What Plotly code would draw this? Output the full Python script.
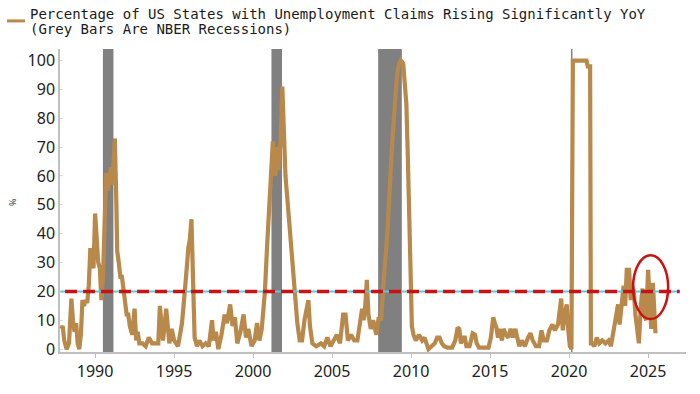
import plotly.graph_objects as go
import pandas as pd

# ---- data (decimal year, % of states) ----
year_pos = [
    1987.85, 1987.95, 1988.05, 1988.2, 1988.35, 1988.5, 1988.6, 1988.7, 1988.8, 1988.9,
    1989.0, 1989.1, 1989.2, 1989.3, 1989.4, 1989.5, 1989.6, 1989.7, 1989.8, 1989.9,
    1990.0, 1990.1, 1990.2, 1990.3, 1990.4, 1990.5, 1990.6, 1990.7, 1990.8, 1990.9,
    1991.0, 1991.1, 1991.25, 1991.35, 1991.4, 1991.5, 1991.6, 1991.7, 1991.8, 1991.9,
    1992.0, 1992.1, 1992.2, 1992.35, 1992.5, 1992.6, 1992.7, 1992.8, 1993.0, 1993.2,
    1993.4, 1993.6, 1993.8, 1994.0, 1994.1, 1994.2, 1994.3, 1994.5, 1994.6, 1994.7,
    1994.85, 1995.0, 1995.25, 1995.4, 1995.5, 1995.6, 1995.7, 1995.8, 1995.9, 1996.0,
    1996.1, 1996.2, 1996.3, 1996.45, 1996.6, 1996.8, 1997.0, 1997.2, 1997.4, 1997.5,
    1997.65, 1997.8, 1998.0, 1998.2, 1998.35, 1998.55, 1998.7, 1998.85, 1999.0, 1999.2,
    1999.4, 1999.55, 1999.7, 1999.9, 2000.1, 2000.25, 2000.4, 2000.55, 2000.75, 2000.9,
    2001.0, 2001.15, 2001.25, 2001.4, 2001.5, 2001.6, 2001.75, 2001.85, 2001.95, 2002.05,
    2002.2, 2002.3, 2002.45, 2002.55, 2002.65, 2002.8, 2002.95, 2003.1, 2003.25, 2003.4,
    2003.5, 2003.6, 2003.75, 2004.0, 2004.3, 2004.5, 2004.7, 2004.9, 2005.1, 2005.3,
    2005.5, 2005.7, 2005.85, 2006.0, 2006.2, 2006.4, 2006.6, 2006.75, 2006.9, 2007.0,
    2007.1, 2007.2, 2007.3, 2007.45, 2007.6, 2007.8, 2007.95, 2008.1, 2008.2, 2008.35,
    2008.5, 2008.6, 2008.7, 2008.8, 2008.9, 2009.0, 2009.1, 2009.2, 2009.35, 2009.5,
    2009.6, 2009.7, 2009.8, 2009.9, 2010.0, 2010.05, 2010.15, 2010.3, 2010.5, 2010.7,
    2010.85, 2011.0, 2011.1, 2011.3, 2011.5, 2011.65, 2011.8, 2011.95, 2012.1, 2012.3,
    2012.6, 2012.8, 2012.95, 2013.05, 2013.15, 2013.3, 2013.4, 2013.5, 2013.7, 2013.9,
    2014.05, 2014.15, 2014.3, 2014.6, 2014.9, 2015.05, 2015.2, 2015.3, 2015.4, 2015.5,
    2015.6, 2015.75, 2015.85, 2016.0, 2016.15, 2016.3, 2016.45, 2016.6, 2016.75, 2016.85,
    2017.0, 2017.2, 2017.4, 2017.55, 2017.7, 2017.9, 2018.1, 2018.25, 2018.4, 2018.6,
    2018.75, 2018.95, 2019.1, 2019.3, 2019.5, 2019.6, 2019.7, 2019.85, 2019.95, 2020.05,
    2020.15, 2020.24, 2020.5, 2020.8, 2021.1, 2021.18, 2021.33, 2021.38, 2021.45, 2021.6,
    2021.75, 2021.9, 2022.1, 2022.3, 2022.5, 2022.65, 2022.8, 2022.95, 2023.1, 2023.2,
    2023.35, 2023.45, 2023.55, 2023.65, 2023.8, 2023.9, 2024.0, 2024.1, 2024.2, 2024.3,
    2024.42, 2024.55, 2024.65, 2024.75, 2024.88, 2025.0, 2025.1, 2025.2, 2025.3, 2025.38,
    2025.47,
]
pct_states = [
    7, 8, 3, 0, 2, 17.5, 10, 6, 9, 2,
    0, 5, 17, 15, 17, 16, 22, 35, 30, 28,
    47, 35, 30, 28, 17, 25, 45, 61, 55, 60,
    63, 57, 73, 50, 34, 30, 25, 25, 20, 18,
    12, 12, 8, 5, 14, 3, 6, 2, 2, 1,
    4, 2, 2, 2, 15, 8, 3, 14, 7, 2,
    7, 3, 1, 5, 9, 15, 20, 28, 35, 38,
    45, 25, 4, 1, 3, 1, 2, 1, 10, 3,
    6, 0, 5, 12, 9, 15.5, 8, 11, 2, 6,
    12, 4, 7, 1, 3, 9, 3, 7, 20, 37,
    46, 61, 72, 60, 70, 62, 73, 91, 69, 60,
    50, 43, 34, 25, 20, 9, 3, 3, 10, 14,
    17, 8, 2, 1, 2, 1, 4, 1, 3, 5,
    2, 12, 12, 3, 5, 3, 3, 8, 14, 10,
    15, 24, 12, 7, 10, 5, 11, 10, 20, 30,
    40, 52, 62, 71, 79, 88, 94, 98, 100, 99,
    93, 85, 65, 40, 20, 8, 5, 3, 5, 3,
    4, 1, 0, 1, 2, 4, 4, 2, 1, 0.5,
    0.5, 3, 7.5, 7, 2, 4, 4, 1, 1, 5.5,
    5, 2, 0.5, 0.5, 0.5, 4, 11, 9, 7.5, 4,
    7, 3, 7, 5, 4, 7, 4, 7, 4, 1,
    3, 1, 4, 5.5, 3, 1, 1, 6.5, 3, 3,
    6.5, 8.5, 6.5, 8.5, 17.5, 6.5, 11, 15.5, 6.5, 1,
    0, 100, 100, 100, 100, 98, 98, 2, 2, 1,
    4, 2, 3, 2, 3, 1, 6.5, 10, 15.5, 8.5,
    19, 22, 15, 27.5, 27.5, 17, 22, 20, 12, 6.5,
    2, 15.5, 21, 12, 10, 27.5, 15, 7, 23, 15.5,
    5.5,
]
recession_start = ["1990-07-01", "2001-03-01", "2007-12-01", "2020-02-15"]
recession_end = ["1991-03-01", "2001-11-01", "2009-06-01", "2020-03-20"]
threshold = 20
x_tick_years = [1990, 1995, 2000, 2005, 2010, 2015, 2020, 2025]
y_ticks = [0, 10, 20, 30, 40, 50, 60, 70, 80, 90, 100]


def to_date(y):
    yr = int(y)
    return pd.Timestamp(yr, 1, 1) + pd.Timedelta(days=(y - yr) * 365.25)


dates = [to_date(v) for v in year_pos]

TAN = "#B8894B"
RED = "#CC1111"
GREY_AX = "#BFBFBF"

fig = go.Figure()
fig.add_trace(go.Scatter(x=dates, y=pct_states, mode="lines",
                         line=dict(color=TAN, width=4.2), showlegend=False,
                         hoverinfo="skip"))

shapes = []
for s, e in zip(recession_start, recession_end):
    shapes.append(dict(type="rect", xref="x", yref="paper", x0=s, x1=e, y0=0, y1=1,
                       fillcolor="#808080", line=dict(width=0), layer="below"))
shapes.append(dict(type="line", xref="x", yref="y", x0=to_date(1987.8), x1=to_date(2027.0),
                   y0=threshold, y1=threshold, line=dict(color="#55CCE6", width=2), layer="above"))
shapes.append(dict(type="line", xref="x", yref="y", x0=to_date(1988.1), x1=to_date(2027.0),
                   y0=threshold, y1=threshold, line=dict(color=RED, width=3.5, dash="12px,6px"),
                   layer="above"))
shapes.append(dict(type="circle", xref="x", yref="y", x0=to_date(2024.05), x1=to_date(2026.27),
                   y0=10.4, y1=32.5, line=dict(color=RED, width=2.5), layer="above"))
# legend swatch
shapes.append(dict(type="line", xref="paper", yref="paper", x0=(7 - 60) / 626, x1=(25 - 60) / 626,
                   y0=1 + (49 - 20) / 313, y1=1 + (49 - 20) / 313,
                   line=dict(color=TAN, width=3)))

annotations = [
    dict(text="Percentage of US States with Unemployment Claims Rising Significantly YoY",
         xref="paper", yref="paper", x=(28 - 60) / 626, y=1 + (49 - 13) / 313,
         xanchor="left", yanchor="middle", showarrow=False,
         font=dict(family="DejaVu Sans Mono", size=14, color="#1A1A1A")),
    dict(text="(Grey Bars Are NBER Recessions)",
         xref="paper", yref="paper", x=(28 - 60) / 626, y=1 + (49 - 28) / 313,
         xanchor="left", yanchor="middle", showarrow=False,
         font=dict(family="DejaVu Sans Mono", size=14, color="#1A1A1A")),
    dict(text="%", xref="paper", yref="y", x=(13 - 60) / 626, y=51, textangle=-90,
         showarrow=False, xanchor="center", yanchor="middle",
         font=dict(family="Noto Sans", size=9, color="#333333")),
]

fig.update_layout(
    width=700, height=394,
    margin=dict(l=60, r=14, t=49, b=32),
    paper_bgcolor="white", plot_bgcolor="white",
    shapes=shapes, annotations=annotations, showlegend=False,
    xaxis=dict(type="date", range=[to_date(1987.78), to_date(2027.4)],
               tickvals=[pd.Timestamp(y, 1, 1) for y in x_tick_years],
               ticktext=[str(y) for y in x_tick_years],
               showgrid=False, zeroline=False, showline=True, linecolor=GREY_AX, linewidth=1.5,
               ticks="outside", ticklen=4, tickcolor=GREY_AX,
               tickfont=dict(family="Noto Sans", size=16, color="#222222")),
    yaxis=dict(range=[-1, 104], tickvals=y_ticks, ticktext=[str(v) for v in y_ticks],
               showgrid=False, zeroline=False, showline=True, linecolor=GREY_AX, linewidth=1.5,
               ticks="inside", ticklen=3, tickcolor="#DDDDDD",
               tickfont=dict(family="Noto Sans", size=16, color="#222222")),
)

fig.write_html("out.html")
